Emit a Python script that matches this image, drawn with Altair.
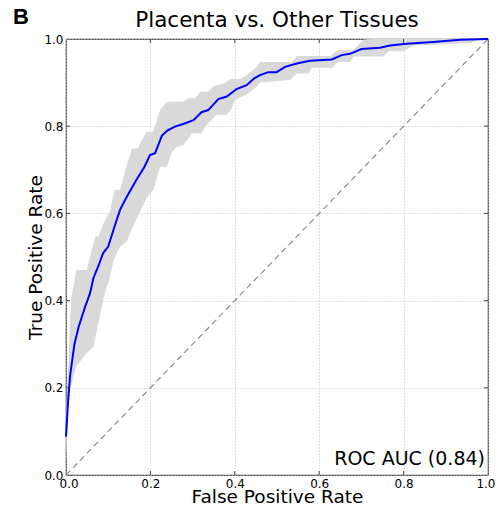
import altair as alt
import pandas as pd

# Mean ROC curve
fpr_mean = [0, 0.005, 0.01, 0.02, 0.03, 0.045, 0.057, 0.065, 0.077, 0.088, 0.1, 0.115,
            0.128, 0.145, 0.167, 0.185, 0.199, 0.211, 0.22, 0.227, 0.24, 0.258, 0.278,
            0.302, 0.321, 0.337, 0.361, 0.381, 0.404, 0.428, 0.446, 0.46, 0.479, 0.499,
            0.519, 0.547, 0.578, 0.63, 0.653, 0.673, 0.7, 0.744, 0.768, 0.807, 0.87,
            0.934, 1.0]
tpr_mean = [0.088, 0.17, 0.23, 0.3, 0.34, 0.385, 0.417, 0.452, 0.48, 0.509, 0.524, 0.57,
            0.608, 0.64, 0.677, 0.705, 0.734, 0.738, 0.76, 0.778, 0.79, 0.799, 0.805,
            0.814, 0.832, 0.837, 0.862, 0.868, 0.885, 0.894, 0.91, 0.917, 0.924, 0.924,
            0.936, 0.944, 0.95, 0.953, 0.963, 0.966, 0.977, 0.98, 0.985, 0.989, 0.993,
            0.998, 1.0]

# Confidence band (lower / upper)
band_fpr = [0.000, 0.005, 0.010, 0.013, 0.025, 0.049, 0.065, 0.069, 0.077, 0.088, 0.096,
            0.104, 0.112, 0.116, 0.128, 0.144, 0.156, 0.171, 0.175, 0.191, 0.207, 0.223,
            0.239, 0.250, 0.262, 0.278, 0.290, 0.298, 0.306, 0.318, 0.321, 0.333, 0.337,
            0.349, 0.357, 0.373, 0.381, 0.389, 0.393, 0.400, 0.412, 0.428, 0.452, 0.460,
            0.531, 0.535, 0.547, 0.574, 0.582, 0.626, 0.630, 0.645, 0.673, 0.681, 0.705,
            0.720, 0.752, 0.764, 0.800, 0.823, 0.957, 0.981, 1.0]
band_lo = [0.03, 0.15, 0.20, 0.21, 0.25, 0.28, 0.294, 0.31, 0.35, 0.40, 0.43,
           0.452, 0.49, 0.50, 0.524, 0.535, 0.565, 0.595, 0.604, 0.635, 0.654, 0.707,
           0.707, 0.738, 0.753, 0.757, 0.772, 0.784, 0.784, 0.784, 0.784, 0.803, 0.806,
           0.818, 0.826, 0.826, 0.826, 0.836, 0.841, 0.860, 0.865, 0.872, 0.891, 0.900,
           0.906, 0.910, 0.921, 0.921, 0.934, 0.934, 0.934, 0.947, 0.947, 0.960, 0.960,
           0.960, 0.960, 0.972, 0.972, 0.985, 0.990, 1.0, 1.0]
band_hi = [0.14, 0.24, 0.36, 0.41, 0.47, 0.47, 0.53, 0.547, 0.547, 0.575, 0.592,
           0.604, 0.64, 0.654, 0.654, 0.71, 0.749, 0.749, 0.76, 0.787, 0.787, 0.837,
           0.856, 0.856, 0.856, 0.856, 0.864, 0.864, 0.864, 0.879, 0.879, 0.879, 0.879,
           0.891, 0.894, 0.898, 0.902, 0.908, 0.908, 0.908, 0.908, 0.917, 0.936, 0.947,
           0.947, 0.947, 0.961, 0.961, 0.961, 0.961, 0.964, 0.975, 0.975, 0.975, 0.998,
           1.0, 1.0, 1.0, 1.0, 1.0, 1.0, 1.0, 1.0]

ticks = [0.0, 0.2, 0.4, 0.6, 0.8, 1.0]
title_text = "Placenta vs. Other Tissues"
panel_label = "B"
auc_text = "ROC AUC (0.84)"

FONT = "DejaVu Sans"
W, H = 422, 436
TICK = 4

mean_df = pd.DataFrame({"fpr": fpr_mean, "tpr": tpr_mean})
band_df = pd.DataFrame({"fpr": band_fpr, "lo": band_lo, "hi": band_hi})
diag_df = pd.DataFrame({"fpr": [0.0, 1.0], "tpr": [0.0, 1.0]})
tick_df = pd.DataFrame({"v": ticks[1:-1]})

xscale = alt.Scale(domain=[0, 1], nice=False, zero=False)
yscale = alt.Scale(domain=[0, 1], nice=False, zero=False)

common = dict(values=ticks, format=".1f",
              labelFont=FONT, labelFontSize=12, labelColor="#000",
              labelPadding=3, labelOverlap=False,
              tickSize=0, domain=False,
              grid=True, gridDash=[1, 2], gridColor="#c4c4c4", gridWidth=1,
              titleFont=FONT, titleFontSize=18.5, titleFontWeight="normal",
              titleColor="#000", titleBaseline="alphabetic")
xaxis = alt.Axis(title="False Positive Rate", titleY=27, labelFlush=True,
                 labelFlushOffset=7, **common)
yaxis = alt.Axis(title="True Positive Rate", titleX=-25, labelFlush=False, **common)

band = alt.Chart(band_df).mark_area(color="#d9d9d9", opacity=1, interpolate="linear").encode(
    x=alt.X("fpr:Q", scale=xscale, axis=xaxis),
    y=alt.Y("lo:Q", scale=yscale, axis=yaxis),
    y2="hi:Q",
)

diag = alt.Chart(diag_df).mark_line(color="#8c8c8c", strokeDash=[6, 4], strokeWidth=1.2).encode(
    x=alt.X("fpr:Q", scale=xscale),
    y=alt.Y("tpr:Q", scale=yscale),
)

line = alt.Chart(mean_df).mark_line(color="#0000ff", strokeWidth=2).encode(
    x=alt.X("fpr:Q", scale=xscale),
    y=alt.Y("tpr:Q", scale=yscale),
)

# inward tick marks on all four sides (matplotlib style)
tick_style = dict(color="#444444", strokeWidth=1)
tb = alt.Chart(tick_df).mark_rule(**tick_style).encode(
    x=alt.X("v:Q", scale=xscale), y=alt.value(H), y2=alt.value(H - TICK))
tt = alt.Chart(tick_df).mark_rule(**tick_style).encode(
    x=alt.X("v:Q", scale=xscale), y=alt.value(0), y2=alt.value(TICK))
tl = alt.Chart(tick_df).mark_rule(**tick_style).encode(
    y=alt.Y("v:Q", scale=yscale), x=alt.value(0), x2=alt.value(TICK))
tr = alt.Chart(tick_df).mark_rule(**tick_style).encode(
    y=alt.Y("v:Q", scale=yscale), x=alt.value(W), x2=alt.value(W - TICK))

title = alt.Chart(pd.DataFrame({"t": [title_text]})).mark_text(
    font=FONT, fontSize=21.5, align="center", baseline="alphabetic", color="#000"
).encode(x=alt.value(W / 2), y=alt.value(-12), text="t:N")

blabel = alt.Chart(pd.DataFrame({"t": [panel_label]})).mark_text(
    font="Liberation Sans", fontSize=22, fontWeight="bold", align="left",
    baseline="alphabetic", color="#000"
).encode(x=alt.value(-53), y=alt.value(-15), text="t:N")

auc = alt.Chart(pd.DataFrame({"t": [auc_text]})).mark_text(
    font=FONT, fontSize=19, align="right", baseline="alphabetic", color="#000"
).encode(x=alt.value(419), y=alt.value(426), text="t:N")

chart = alt.layer(band, diag, line, tb, tt, tl, tr, title, blabel, auc).properties(
    width=W, height=H,
    autosize=alt.AutoSizeParams(type="none"),
    padding={"left": 58, "top": 31, "right": 7, "bottom": 29},
).configure_view(stroke="#444444", strokeWidth=1.2)

chart.save("out.html", embed_options={"renderer": "svg", "actions": False})
